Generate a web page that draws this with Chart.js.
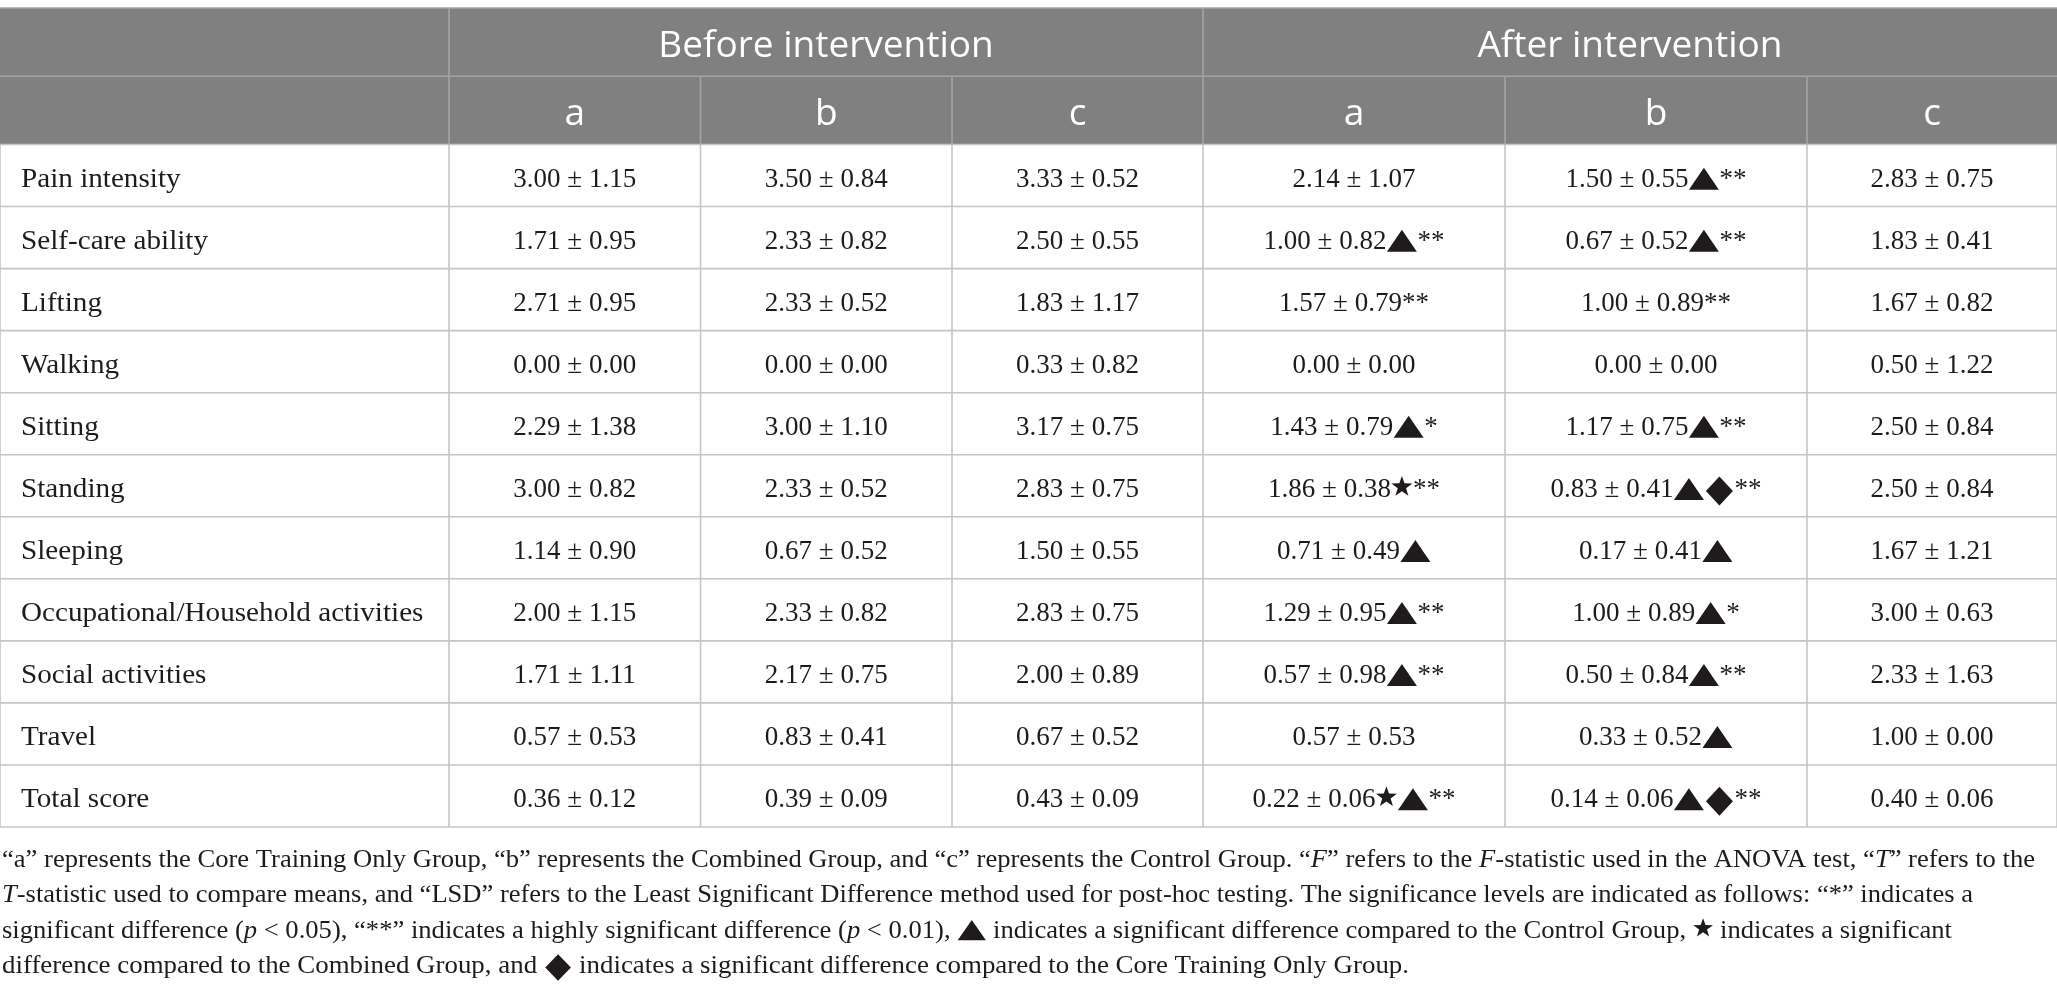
<!DOCTYPE html>
<html>
<head>
<meta charset="utf-8">
<title>Before / after intervention scores</title>
<script src="https://cdn.jsdelivr.net/npm/chart.js@4.4.1/dist/chart.umd.min.js"></script>
<style>
  html, body { margin: 0; padding: 0; background: #fff; }
  #wrap { width: 2057px; height: 998px; position: relative; }
</style>
</head>
<body>
<div id="wrap"><canvas id="scoreTable"></canvas></div>
<script>
const rowLabels = [
  "Pain intensity", "Self-care ability", "Lifting", "Walking", "Sitting", "Standing",
  "Sleeping", "Occupational/Household activities", "Social activities", "Travel", "Total score"
];
const periods = ["Before intervention", "After intervention"];
const groups = ["a", "b", "c"];

const beforeMeanA = [3.00, 1.71, 2.71, 0.00, 2.29, 3.00, 1.14, 2.00, 1.71, 0.57, 0.36];
const beforeSdA   = [1.15, 0.95, 0.95, 0.00, 1.38, 0.82, 0.90, 1.15, 1.11, 0.53, 0.12];
const beforeMeanB = [3.50, 2.33, 2.33, 0.00, 3.00, 2.33, 0.67, 2.33, 2.17, 0.83, 0.39];
const beforeSdB   = [0.84, 0.82, 0.52, 0.00, 1.10, 0.52, 0.52, 0.82, 0.75, 0.41, 0.09];
const beforeMeanC = [3.33, 2.50, 1.83, 0.33, 3.17, 2.83, 1.50, 2.83, 2.00, 0.67, 0.43];
const beforeSdC   = [0.52, 0.55, 1.17, 0.82, 0.75, 0.75, 0.55, 0.75, 0.89, 0.52, 0.09];

const afterMeanA = [2.14, 1.00, 1.57, 0.00, 1.43, 1.86, 0.71, 1.29, 0.57, 0.57, 0.22];
const afterSdA   = [1.07, 0.82, 0.79, 0.00, 0.79, 0.38, 0.49, 0.95, 0.98, 0.53, 0.06];
const afterSigA  = ["", "▲**", "**", "", "▲*", "★**", "▲", "▲**", "▲**", "", "★▲**"];
const afterMeanB = [1.50, 0.67, 1.00, 0.00, 1.17, 0.83, 0.17, 1.00, 0.50, 0.33, 0.14];
const afterSdB   = [0.55, 0.52, 0.89, 0.00, 0.75, 0.41, 0.41, 0.89, 0.84, 0.52, 0.06];
const afterSigB  = ["▲**", "▲**", "**", "", "▲**", "▲◆**", "▲", "▲*", "▲**", "▲", "▲◆**"];
const afterMeanC = [2.83, 1.83, 1.67, 0.50, 2.50, 2.50, 1.67, 3.00, 2.33, 1.00, 0.40];
const afterSdC   = [0.75, 0.41, 0.82, 1.22, 0.84, 0.84, 1.21, 0.63, 1.63, 0.00, 0.06];

const noteLines = [
  "“a” represents the Core Training Only Group, “b” represents the Combined Group, and “c” represents the Control Group. “<i>F</i>” refers to the <i>F</i>-statistic used in the ANOVA test, “<i>T</i>” refers to the",
  "<i>T</i>-statistic used to compare means, and “LSD” refers to the Least Significant Difference method used for post-hoc testing. The significance levels are indicated as follows: “*” indicates a",
  "significant difference (<i>p</i> &lt; 0.05), “**” indicates a highly significant difference (<i>p</i> &lt; 0.01), ▲ indicates a significant difference compared to the Control Group, ★ indicates a significant",
  "difference compared to the Combined Group, and ◆ indicates a significant difference compared to the Core Training Only Group."
];

// ---- layout (relative widths / heights, not data) ----
const colWidths = [449, 251.5, 251.5, 251, 302, 302, 250];
const rowHeights = [1.1, 1.1].concat(rowLabels.map(() => 1));
const noteLineWidths = [2033, 1971, 1950, 1407];

const colEdges = [0];
colWidths.forEach(w => colEdges.push(colEdges[colEdges.length - 1] + w));
const rowEdges = [0];
rowHeights.forEach(h => rowEdges.push(rowEdges[rowEdges.length - 1] + h));

const SERIF = '"Liberation Serif", "Times New Roman", serif';
const SANS = '"Open Sans", "Noto Sans", sans-serif';
const SHAPES = { "▲": "tri", "◆": "dia", "★": "star" };
const SHAPE_W = { tri: 31, dia: 30, star: 22 };

function fmt(m, s) {
  return m.toFixed(2) + " ± " + s.toFixed(2);
}

// cells of the six value columns
const columns = [
  { mean: beforeMeanA, sd: beforeSdA, sig: null },
  { mean: beforeMeanB, sd: beforeSdB, sig: null },
  { mean: beforeMeanC, sd: beforeSdC, sig: null },
  { mean: afterMeanA, sd: afterSdA, sig: afterSigA },
  { mean: afterMeanB, sd: afterSdB, sig: afterSigB },
  { mean: afterMeanC, sd: afterSdC, sig: null }
];

// split text into font runs and shape runs
function toRuns(str, font, k) {
  const runs = [];
  let buf = "";
  for (const ch of str) {
    if (SHAPES[ch]) {
      if (buf) runs.push({ t: buf, f: font });
      buf = "";
      runs.push({ shape: SHAPES[ch], k: k });
    } else {
      buf += ch;
    }
  }
  if (buf) runs.push({ t: buf, f: font });
  return runs;
}

function noteRuns(line) {
  let runs = [];
  line = line.replace(/&lt;/g, "<");
  for (const p of line.split(/(<i>.*?<\/i>)/)) {
    if (!p) continue;
    if (p.startsWith("<i>")) runs.push({ t: p.slice(3, -4), f: "italic 26px " + SERIF });
    else runs = runs.concat(toRuns(p, "26px " + SERIF, 0.92));
  }
  return runs;
}

function runWidth(ctx, r) {
  if (r.shape) return SHAPE_W[r.shape] * r.k;
  ctx.font = r.f;
  return ctx.measureText(r.t).width;
}

function runsWidth(ctx, runs) {
  return runs.reduce((w, r) => w + runWidth(ctx, r), 0);
}

function drawShape(ctx, kind, x, base, k) {
  ctx.beginPath();
  if (kind === "tri") {
    ctx.moveTo(x + 0.5 * k, base + 3 * k);
    ctx.lineTo(x + 30.5 * k, base + 3 * k);
    ctx.lineTo(x + 15.5 * k, base - 19 * k);
  } else if (kind === "dia") {
    const cx = x + 15 * k, cy = base - 6 * k;
    ctx.moveTo(cx, cy - 14.5 * k);
    ctx.lineTo(cx + 13.5 * k, cy);
    ctx.lineTo(cx, cy + 14.5 * k);
    ctx.lineTo(cx - 13.5 * k, cy);
  } else {
    const cx = x + 11 * k, cy = base - 10 * k, R = 11 * k, r = R * 0.4;
    for (let i = 0; i < 10; i++) {
      const a = -Math.PI / 2 + i * Math.PI / 5;
      const rad = i % 2 ? r : R;
      ctx.lineTo(cx + rad * Math.cos(a), cy + rad * Math.sin(a));
    }
  }
  ctx.closePath();
  ctx.fill();
}

function drawRuns(ctx, runs, x, y) {
  for (const r of runs) {
    if (r.shape) drawShape(ctx, r.shape, x, y, r.k);
    else { ctx.font = r.f; ctx.fillText(r.t, x, y); }
    x += runWidth(ctx, r);
  }
}

const tablePlugin = {
  id: "tableDraw",
  afterDraw(chart) {
    const ctx = chart.ctx;
    const xs = colEdges.map(v => chart.scales.x.getPixelForValue(v));
    const ys = rowEdges.map(v => chart.scales.y.getPixelForValue(v));
    const left = xs[0], right = xs[xs.length - 1];
    const bottom = ys[ys.length - 1];

    ctx.save();
    // header band
    ctx.fillStyle = "#808080";
    ctx.fillRect(left, ys[0], right - left, ys[2] - ys[0]);

    // body grid
    ctx.strokeStyle = "#c6c6c6";
    ctx.lineWidth = 1.6;
    ctx.beginPath();
    for (let r = 2; r < ys.length; r++) {
      ctx.moveTo(left, ys[r]); ctx.lineTo(right, ys[r]);
    }
    xs.forEach(px => { ctx.moveTo(px, ys[2]); ctx.lineTo(px, bottom); });
    ctx.stroke();

    // header grid
    ctx.strokeStyle = "#a4a4a4";
    ctx.beginPath();
    ctx.moveTo(left, ys[0]); ctx.lineTo(right, ys[0]);
    ctx.moveTo(left, ys[1]); ctx.lineTo(right, ys[1]);
    [1, 4].forEach(i => { ctx.moveTo(xs[i], ys[0]); ctx.lineTo(xs[i], ys[2]); });
    [2, 3, 5, 6].forEach(i => { ctx.moveTo(xs[i], ys[1]); ctx.lineTo(xs[i], ys[2]); });
    ctx.stroke();

    // header text
    ctx.fillStyle = "#ffffff";
    ctx.textBaseline = "alphabetic";
    ctx.textAlign = "center";
    ctx.font = "37px " + SANS;
    const h1 = ys[1] - ys[0], h2 = ys[2] - ys[1];
    periods.forEach((p, i) => {
      ctx.fillText(p, (xs[1 + i * 3] + xs[4 + i * 3]) / 2, ys[0] + h1 * 0.72);
    });
    for (let c = 1; c < 7; c++) {
      ctx.fillText(groups[(c - 1) % 3], (xs[c] + xs[c + 1]) / 2, ys[1] + h2 * 0.71);
    }

    // body text
    ctx.fillStyle = "#1f1b1c";
    ctx.textAlign = "left";
    rowLabels.forEach((label, r) => {
      const top = ys[r + 2], h = ys[r + 3] - top;
      const base = top + h * 0.68;
      ctx.font = "27px " + SERIF;
      ctx.save();
      ctx.translate(left + 21, base);
      ctx.scale(1.08, 1);
      ctx.fillText(label, 0, 0);
      ctx.restore();
      columns.forEach((col, c) => {
        const str = fmt(col.mean[r], col.sd[r]) + (col.sig ? col.sig[r] : "");
        const runs = toRuns(str, "27px " + SERIF, 1);
        const w = runsWidth(ctx, runs);
        const cx = (xs[c + 1] + xs[c + 2]) / 2;
        drawRuns(ctx, runs, cx - w / 2, base);
      });
    });

    // footnote, each line fitted to its width in the original
    noteLines.map(noteRuns).forEach((runs, i) => {
      const sx = noteLineWidths[i] / runsWidth(ctx, runs);
      ctx.save();
      ctx.translate(left + 2, bottom + 39.5 + i * 35.5);
      ctx.scale(sx, 1);
      drawRuns(ctx, runs, 0, 0);
      ctx.restore();
    });
    ctx.restore();
  }
};

new Chart(document.getElementById("scoreTable"), {
  type: "scatter",
  data: { datasets: [] },
  options: {
    responsive: true,
    maintainAspectRatio: false,
    devicePixelRatio: 1,
    animation: false,
    events: [],
    layout: { padding: { top: 8, left: 0, right: 0, bottom: 171 } },
    scales: {
      x: { type: "linear", min: 0, max: colEdges[colEdges.length - 1], display: false },
      y: { type: "linear", min: 0, max: rowEdges[rowEdges.length - 1], reverse: true, display: false }
    },
    plugins: { legend: { display: false }, tooltip: { enabled: false } }
  },
  plugins: [tablePlugin]
});
</script>
</body>
</html>
